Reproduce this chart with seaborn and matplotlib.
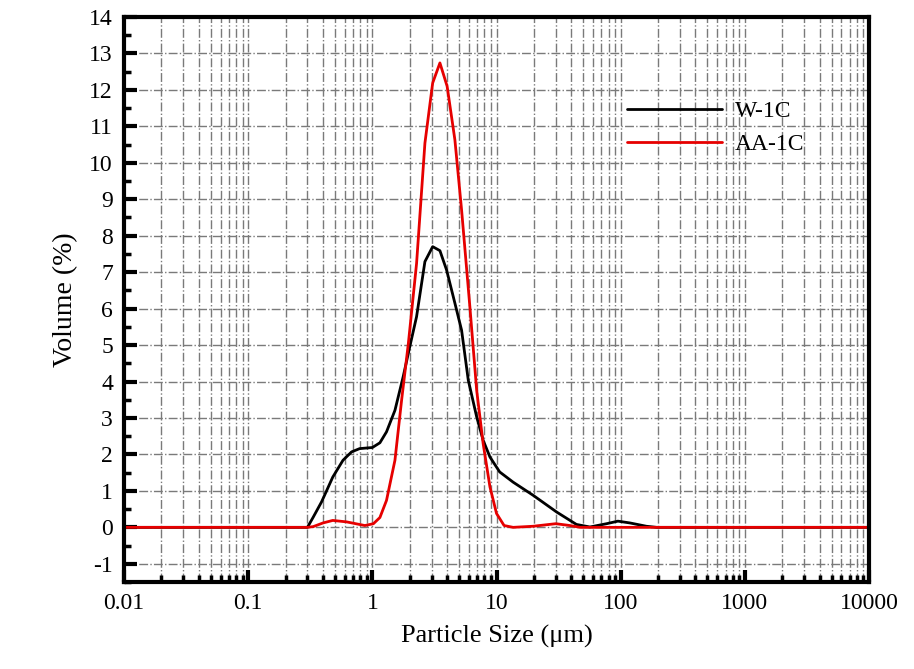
import matplotlib
matplotlib.use("Agg")
import matplotlib.pyplot as plt
import matplotlib.ticker as mticker
import seaborn as sns

# W-1C particle size distribution
w1c_size = [0.01, 0.3, 0.334, 0.39, 0.48, 0.58, 0.68, 0.79, 1.0, 1.15, 1.3, 1.52,
            1.77, 2.0, 2.27, 2.65, 3.06, 3.5, 3.96, 4.62, 5.23, 5.92, 6.92, 7.8,
            8.85, 10.6, 13.6, 19.7, 30.5, 44, 56.5, 77, 95, 119, 161, 195, 10000]
w1c_vol = [0, 0, 0.28, 0.7, 1.38, 1.84, 2.07, 2.16, 2.19, 2.32, 2.62, 3.21,
           4.13, 4.95, 5.78, 7.29, 7.70, 7.59, 7.06, 6.15, 5.41, 4.04, 3.03, 2.39,
           1.93, 1.52, 1.24, 0.88, 0.42, 0.08, 0.01, 0.1, 0.17, 0.12, 0.03, 0, 0]

# AA-1C particle size distribution
aa1c_size = [0.01, 0.3, 0.334, 0.40, 0.48, 0.62, 0.87, 1.02, 1.15, 1.3, 1.52, 1.72,
             1.95, 2.27, 2.65, 3.06, 3.5, 4.0, 4.62, 5.23, 6.1, 6.92, 7.8, 8.85,
             10.0, 11.5, 13.6, 19.7, 30, 39, 47, 10000]
aa1c_vol = [0, 0, 0.02, 0.12, 0.19, 0.15, 0.05, 0.1, 0.27, 0.74, 1.84, 3.49,
            5.05, 7.24, 10.54, 12.19, 12.74, 12.1, 10.63, 8.71, 6.05, 3.76, 2.3, 1.11,
            0.38, 0.05, 0, 0.03, 0.1, 0.05, 0, 0]

x_ticks = [0.01, 0.1, 1, 10, 100, 1000, 10000]
x_tick_labels = ["0.01", "0.1", "1", "10", "100", "1000", "10000"]
y_ticks = list(range(-1, 15))

sns.set_style("ticks")
plt.rcParams['font.family'] = ['Liberation Serif', 'DejaVu Serif']
plt.rcParams['axes.unicode_minus'] = False
plt.rcParams['text.color'] = 'black'
plt.rcParams['axes.labelcolor'] = 'black'
plt.rcParams['xtick.color'] = 'black'
plt.rcParams['ytick.color'] = 'black'
plt.rcParams['axes.edgecolor'] = 'black'

fig = plt.figure(figsize=(9.14, 6.69), dpi=100)
ax = fig.add_axes([0.1357, 0.130, 0.8151, 0.8446])

sns.lineplot(x=w1c_size, y=w1c_vol, ax=ax, color="black", linewidth=2, label="W-1C", sort=False)
sns.lineplot(x=aa1c_size, y=aa1c_vol, ax=ax, color="#e60000", linewidth=2, label="AA-1C", sort=False)

ax.set_xscale("log")
ax.set_xlim(0.01, 10000)
ax.set_ylim(-1.5, 14)
ax.set_xticks(x_ticks)
ax.set_xticklabels(x_tick_labels)
ax.xaxis.set_minor_locator(mticker.LogLocator(base=10, subs=range(2, 10), numticks=20))
ax.xaxis.set_minor_formatter(mticker.NullFormatter())
ax.set_yticks(y_ticks)
ax.yaxis.set_minor_locator(mticker.MultipleLocator(0.5))

ax.grid(True, which="major", axis="both", color="#7a7a7a", linestyle="-.", linewidth=1.0)
ax.grid(True, which="minor", axis="x", color="#7a7a7a", linestyle="-.", linewidth=1.0)

ax.tick_params(axis="both", which="major", direction="in", length=9, width=3,
               labelsize=17, top=False, right=False, pad=8)
ax.tick_params(axis="both", which="minor", direction="in", length=5, width=2.5,
               top=False, right=False)
for sp in ax.spines.values():
    sp.set_linewidth(3)

ax.set_xlabel("Particle Size (μm)", fontsize=19, labelpad=8)
ax.set_ylabel("Volume (%)", fontsize=20, labelpad=8)

ax.legend(loc="upper left", bbox_to_anchor=(0.647, 0.89), frameon=False,
          fontsize=17, handlelength=4.0, handletextpad=0.55, labelspacing=0.5)

fig.savefig("out.png", dpi=100)
plt.close(fig)
